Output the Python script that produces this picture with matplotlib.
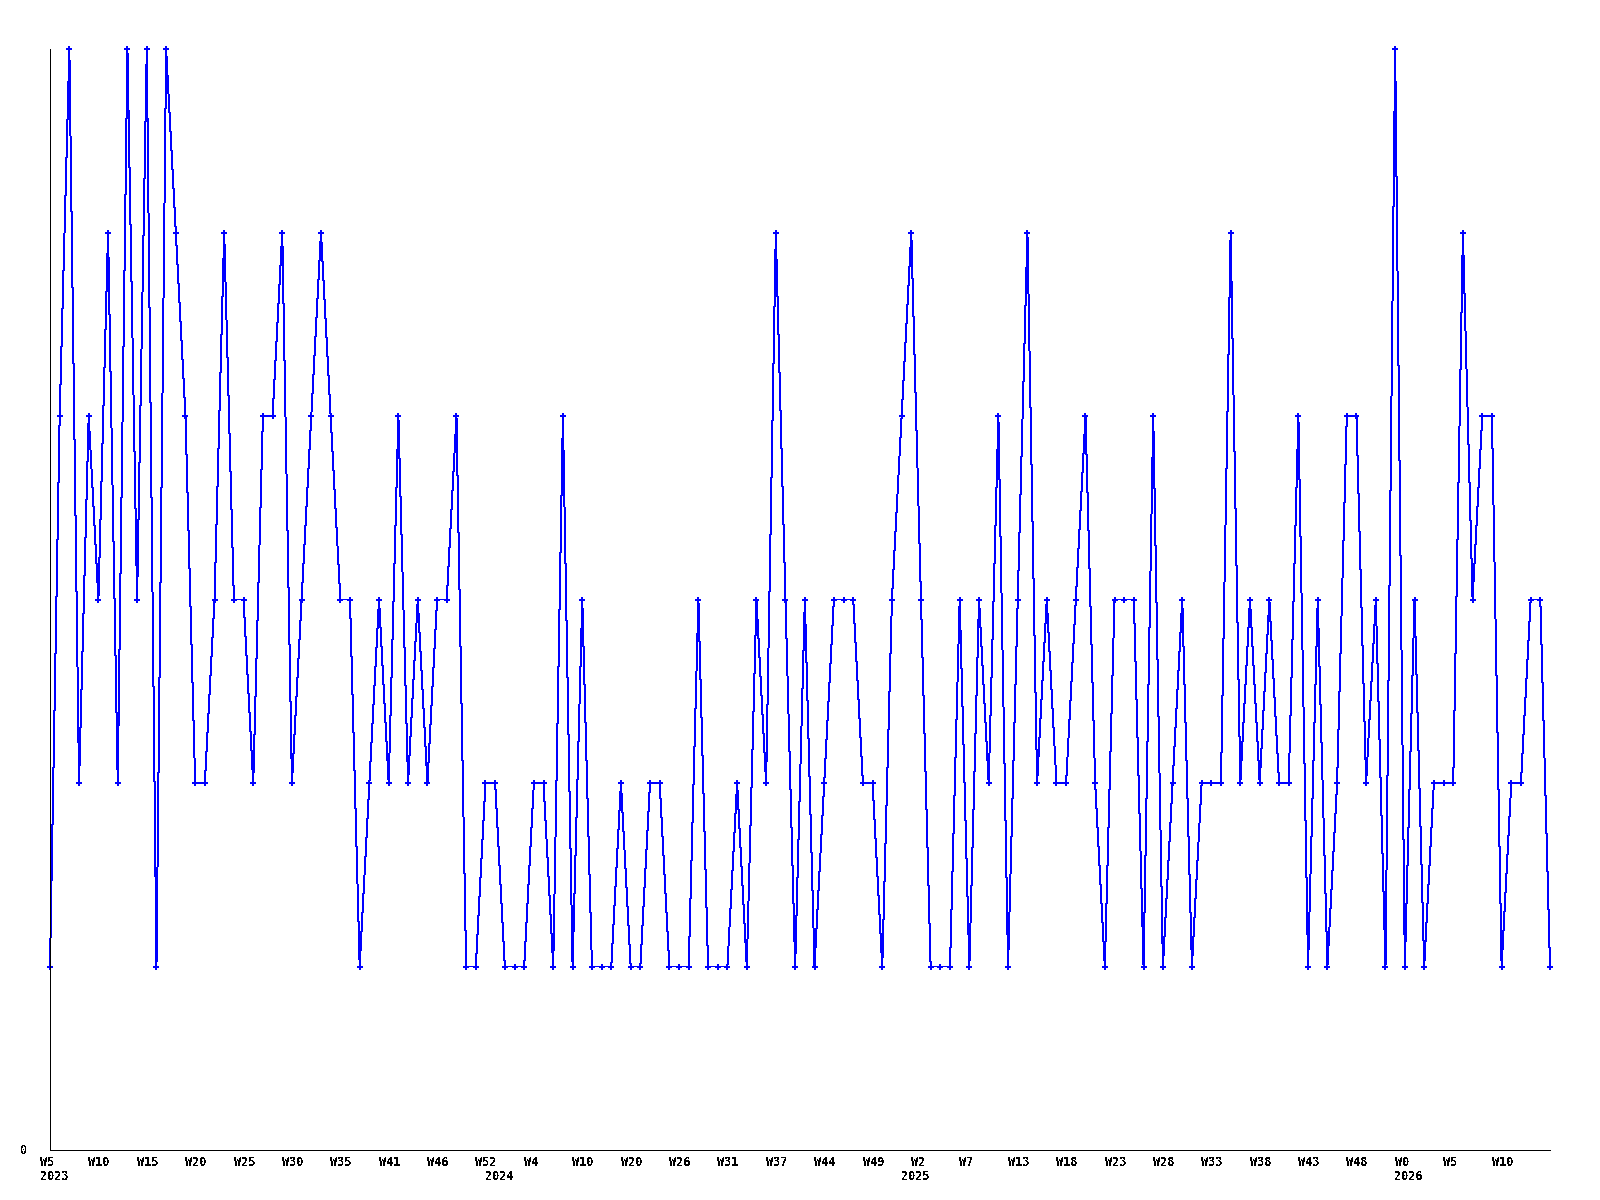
import numpy as np
import matplotlib
matplotlib.use("Agg")
import matplotlib.pyplot as plt

# weekly counts, one point per week
values = [1, 4, 6, 2, 4, 3, 5, 2, 6, 3, 6, 1, 6, 5, 4, 2, 2, 3, 5, 3,
          3, 2, 4, 4, 5, 2, 3, 4, 5, 4, 3, 3, 1, 2, 3, 2, 4, 2, 3, 2,
          3, 3, 4, 1, 1, 2, 2, 1, 1, 1, 2, 2, 1, 4, 1, 3, 1, 1, 1, 2,
          1, 1, 2, 2, 1, 1, 1, 3, 1, 1, 1, 2, 1, 3, 2, 5, 3, 1, 3, 1,
          2, 3, 3, 3, 2, 2, 1, 3, 4, 5, 3, 1, 1, 1, 3, 1, 3, 2, 4, 1,
          3, 5, 2, 3, 2, 2, 3, 4, 2, 1, 3, 3, 3, 1, 4, 1, 2, 3, 1, 2,
          2, 2, 5, 2, 3, 2, 3, 2, 2, 4, 1, 3, 1, 2, 4, 4, 2, 3, 1, 6,
          1, 3, 1, 2, 2, 2, 5, 3, 4, 4, 1, 2, 2, 3, 3, 1]

# labels shown under every 5th point
week_labels = ["W5", "W10", "W15", "W20", "W25", "W30", "W35", "W41", "W46", "W52",
               "W4", "W10", "W20", "W26", "W31", "W37", "W44", "W49",
               "W2", "W7", "W13", "W18", "W23", "W28", "W33", "W38", "W43", "W48",
               "W0", "W5", "W10"]
years = ["2023", "2024", "2025", "2026"]
year_start = [0, 46, 89, 140]

plt.rcParams['text.antialiased'] = False

fig = plt.figure(figsize=(16, 12), dpi=100)
ax = fig.add_axes([50/1600, 50/1200, 1500/1600, 1101/1200])

x = np.arange(len(values))
ax.plot(x, values, color=(0, 0, 1), lw=0.72, antialiased=False,
        marker='P', markersize=4.5, markeredgewidth=0, clip_on=False)

ax.set_xlim(0, len(values) - 1)
ax.set_ylim(0, 6)
ax.set_xticks([])
ax.set_yticks([])
for s in ['top', 'right']:
    ax.spines[s].set_visible(False)
for s in ['left', 'bottom']:
    ax.spines[s].set_linewidth(0.72)
    ax.spines[s].set_antialiased(False)

font = dict(family='DejaVu Sans Mono', weight='bold', size=8.5)

for k, lab in enumerate(week_labels):
    ax.annotate(lab, xy=(k*5, 0), xycoords=('data', 'axes fraction'),
                xytext=(-10, -12), textcoords='offset pixels',
                ha='left', va='center', **font)

for yr, i in zip(years, year_start):
    ax.annotate(yr, xy=(i, 0), xycoords=('data', 'axes fraction'),
                xytext=(-10, -27), textcoords='offset pixels',
                ha='left', va='center', **font)

ax.annotate("0", xy=(0, 0), xycoords='axes fraction',
            xytext=(-30, 0), textcoords='offset pixels',
            ha='left', va='center', **font)

fig.savefig("out.png", dpi=100)
